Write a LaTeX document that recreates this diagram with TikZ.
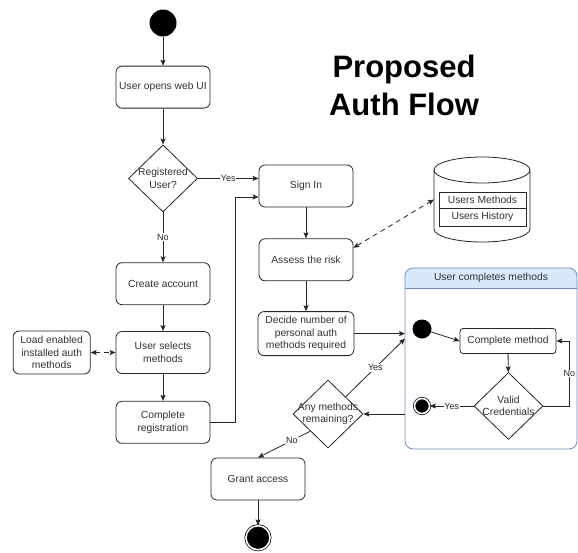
\documentclass[tikz,border=0pt]{standalone}
\usepackage{fontspec}
\setmainfont{Liberation Sans}
\usetikzlibrary{positioning,arrows.meta,shapes.geometric}

\definecolor{laneline}{HTML}{6C8EBF}
\definecolor{lanefill}{HTML}{DAE8FC}

\begin{document}
\begin{tikzpicture}[
  x=1pt, y=-1pt,
  font=\fontsize{10.3}{12.4}\selectfont,
  text=black!80,
  >={Stealth[length=6pt, width=5pt, inset=1.2pt]},
  box/.style={draw=black!85, line width=0.8pt, rounded corners=6pt, align=center,
              inner sep=2pt, minimum width=94pt, minimum height=42pt, fill=white},
  cell/.style={draw=black!85, line width=0.8pt, fill=white, inner sep=0pt, outer sep=0pt,
               minimum width=87pt, minimum height=16pt},
  decision/.style={diamond, draw=black!85, line width=0.8pt, fill=white, inner sep=0pt,
                   minimum width=69pt, minimum height=67pt,
                   label={[align=center, text=black!80]center:#1}},
  initial/.style={circle, fill=black, inner sep=0pt, minimum size=#1},
  final/.style={circle, fill=black, draw=black, line width=0.7pt, double=white,
                double distance=1.6pt, inner sep=0pt, minimum size=#1},
  lanebox/.style={rectangle, inner sep=0pt, outer sep=0pt,
                  minimum width=172pt, minimum height=181pt},
  arr/.style={->, black!85, line width=0.8pt},
  dasharr/.style={<->, black!85, line width=0.8pt, dash pattern=on 5pt off 4pt},
  lbl/.style={font=\fontsize{9}{10}\selectfont, fill=white, inner sep=0.8pt},
]
\useasboundingbox (0,0) rectangle (578,552);

\node[font=\fontsize{31}{38.5}\selectfont\bfseries, text=black, align=center]
  (title) at (404,85.5) {Proposed\\Auth Flow};

% registration column
\node[initial=27pt]                  (start)   at (163,23) {};
\node[box, below=29pt of start]      (open)    {User opens web UI};
\node[decision={Registered\\User?}, below=36pt of open] (reg) {};
\node[box, below=50pt of reg]        (create)  {Create account};
\node[box, below=26pt of create]     (select)  {User selects\\methods};
\node[box, below=27pt of select]     (compreg) {Complete\\registration};
\node[box, minimum width=77pt, minimum height=43pt, left=25pt of select]
                                     (load)    {Load enabled\\installed auth\\methods};

% sign in column
\node[box]                           (signin)  at (306,186) {Sign In};
\node[box, below=31pt of signin]     (assess)  {Assess the risk};
\node[box, minimum width=96pt, minimum height=44pt, below=30pt of assess]
                                     (decide)  {Decide number of\\personal auth\\methods required};
\node[decision={Any methods\\remaining?}, minimum width=70pt, minimum height=68pt]
                                     (any)     at (328,414) {};
\node[box]                           (grant)   at (258,479) {Grant access};
\node[final=24pt, below=25pt of grant] (stop)  {};

% database
\node[lanebox, minimum width=96pt, minimum height=85pt] (db) at (482,199.5) {};
\draw[black!85, line width=0.8pt, fill=white]
  ([yshift=-13pt]db.north west) -- ([yshift=13pt]db.south west)
  arc[start angle=180, end angle=360, x radius=48pt, y radius=13pt]
  -- ([yshift=-13pt]db.north east)
  arc[start angle=0, end angle=180, x radius=48pt, y radius=13pt]
  arc[start angle=180, end angle=360, x radius=48pt, y radius=13pt];
\node[cell]                                        (umeth) at (482.5,200.3) {Users Methods};
\node[cell, minimum height=18pt, below=0pt of umeth] (uhist) {Users History};

% swimlane
\node[lanebox] (lane) at (491,358.5) {};
\begin{scope}
  \clip (lane.north west) rectangle ([yshift=-20pt]lane.north east);
  \fill[lanefill, rounded corners=8pt] (lane.north west) rectangle (lane.south east);
\end{scope}
\draw[laneline, line width=0.8pt, rounded corners=8pt] (lane.north west) rectangle (lane.south east);
\draw[laneline, line width=0.8pt] ([yshift=-20pt]lane.north west) -- ([yshift=-20pt]lane.north east);
\node (lanetitle) at ([yshift=-10pt]lane.north) {User completes methods};

\node[initial=19pt] (istart) at (422,329) {};
\node[box, minimum width=96pt, minimum height=25pt, rounded corners=3pt]
                    (cmethod) at (508,341) {Complete method};
\node[decision={Valid\\Credentials}] (valid) at (508.5,406) {};
\node[final=15pt]   (iend) at (422,406) {};

\coordinate (up) at (235,197);

\draw[arr] (start) -- (open);
\draw[arr] (open) -- (reg);
\draw[arr] (reg.east) -- node[lbl]{Yes} (reg.east -| signin.west);
\draw[arr] (reg) -- node[lbl]{No} (create);
\draw[arr] (create) -- (select);
\draw[arr] (select) -- (compreg);
\draw[dasharr] (load) -- (select);
\draw[arr] (compreg.east) -| (up) -- (up -| signin.west);
\draw[arr] (signin) -- (assess);
\draw[dasharr] ([yshift=12pt]assess.east) -- (db.west);
\draw[arr] (assess) -- (decide);
\draw[arr] (decide.east) -- (decide.east -| lane.west);
\draw[arr] (any.north east) -- node[lbl]{Yes} ([yshift=-5pt]decide.east -| lane.west);
\draw[arr] (lane.west |- any.east) -- (any.east);
\draw[arr] (any.south west) -- node[lbl, pos=0.35]{No} (grant.north);
\draw[arr] (grant) -- (stop);
\draw[arr] (istart) -- (cmethod.west);
\draw[arr] (cmethod) -- (valid);
\draw[arr] (valid.east) -| node[lbl, pos=0.75]{No} ([xshift=13pt]cmethod.east) -- (cmethod.east);
\draw[arr] (valid.west) -- node[lbl]{Yes} (iend);
\end{tikzpicture}
\end{document}
